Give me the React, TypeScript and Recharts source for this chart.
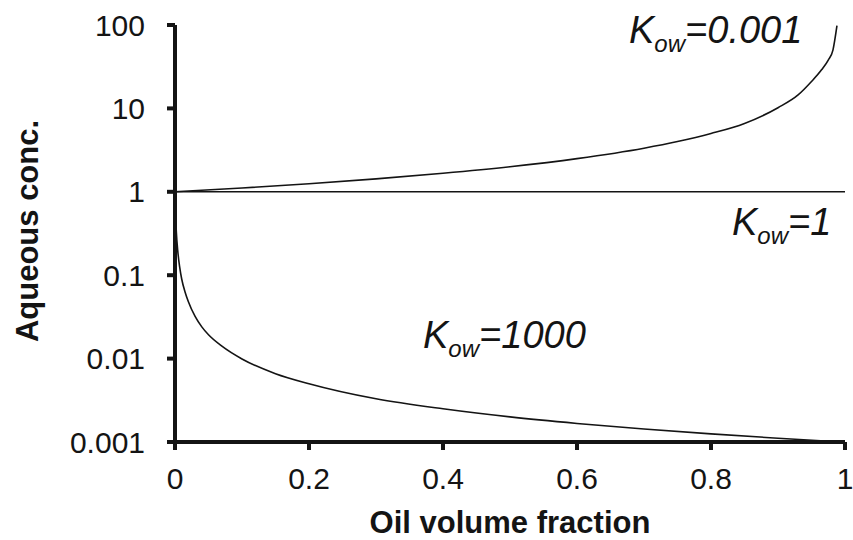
import { LineChart, Line, XAxis, YAxis } from 'recharts'

// oil volume fraction (x) and aqueous concentration (y)
const fracLow = [0, 0.1, 0.2, 0.3, 0.4, 0.5, 0.6, 0.7, 0.75, 0.8, 0.85, 0.9, 0.93, 0.95, 0.965, 0.975, 0.982, 0.988]
const concLow = [1, 1.11, 1.25, 1.43, 1.67, 2.0, 2.5, 3.33, 4.0, 5.0, 6.6, 10.2, 14.5, 21, 29, 38, 50, 98]

const fracOne = [0, 1]
const concOne = [1, 1]

const fracHigh = [0, 0.0005, 0.001, 0.002, 0.004, 0.007, 0.01, 0.015, 0.02, 0.03, 0.04, 0.05, 0.07, 0.1, 0.15, 0.2, 0.3, 0.4, 0.5, 0.6, 0.7, 0.8, 0.9, 0.97, 1]
const concHigh = [1, 0.66, 0.5, 0.33, 0.2, 0.125, 0.09, 0.063, 0.048, 0.032, 0.024, 0.0193, 0.0141, 0.0099, 0.0066, 0.005, 0.0033, 0.0025, 0.002, 0.00167, 0.00143, 0.00125, 0.00111, 0.00103, 0.001]

const xTicks = [0, 0.2, 0.4, 0.6, 0.8, 1]
const yTicks = [0.001, 0.01, 0.1, 1, 10, 100]

const toRows = (xs: number[], ys: number[]) => xs.map((f, i) => ({ f, c: ys[i] }))

const INK = '#141414'
const FONT = '"Liberation Sans", Arial, Helvetica, sans-serif'

function KLabel({ x, y, value }: { x: number; y: number; value: string }) {
  return (
    <text x={x} y={y} fontStyle="italic" fontSize={38} fill={INK} fontFamily={FONT}>
      K
      <tspan fontSize={24} dy={9}>ow</tspan>
      <tspan dy={-9}>={value}</tspan>
    </text>
  )
}

export default function App() {
  const axisStyle = { stroke: INK, strokeWidth: 4 }
  const tickStyle = { fill: INK, fontSize: 30, fontFamily: FONT }

  return (
    <div style={{ position: 'fixed', left: 0, top: 0, width: 853, height: 540, background: '#fff' }}>
      <LineChart width={853} height={540} margin={{ top: 25, right: 8, bottom: 0, left: 0 }} style={{ fontFamily: FONT }}>
        <XAxis
          dataKey="f"
          type="number"
          domain={[0, 1]}
          ticks={xTicks}
          height={98}
          axisLine={axisStyle}
          tickLine={axisStyle}
          tickSize={8}
          tickMargin={18}
          tick={tickStyle}
          allowDuplicatedCategory={false}
        />
        <YAxis
          type="number"
          scale="log"
          domain={[0.001, 100]}
          allowDataOverflow
          ticks={yTicks}
          width={175}
          axisLine={axisStyle}
          tickLine={axisStyle}
          tickSize={8}
          tickMargin={22}
          tick={tickStyle}
        />
        <Line data={toRows(fracLow, concLow)} dataKey="c" type="monotone" stroke={INK} strokeWidth={1.6} dot={false} isAnimationActive={false} />
        <Line data={toRows(fracOne, concOne)} dataKey="c" type="linear" stroke={INK} strokeWidth={1.6} dot={false} isAnimationActive={false} />
        <Line data={toRows(fracHigh, concHigh)} dataKey="c" type="monotone" stroke={INK} strokeWidth={1.6} dot={false} isAnimationActive={false} />
      </LineChart>
      <svg width={853} height={540} style={{ position: 'absolute', left: 0, top: 0, pointerEvents: 'none' }}>
        <KLabel x={629} y={43} value="0.001" />
        <KLabel x={732} y={235} value="1" />
        <KLabel x={423} y={348} value="1000" />
        <text x={510} y={533} textAnchor="middle" fontWeight="bold" fontSize={31} fill={INK} fontFamily={FONT}>
          Oil volume fraction
        </text>
        <text
          transform="translate(38,231) rotate(-90)"
          textAnchor="middle"
          fontWeight="bold"
          fontSize={31}
          fill={INK}
          fontFamily={FONT}
        >
          Aqueous conc.
        </text>
      </svg>
    </div>
  )
}
